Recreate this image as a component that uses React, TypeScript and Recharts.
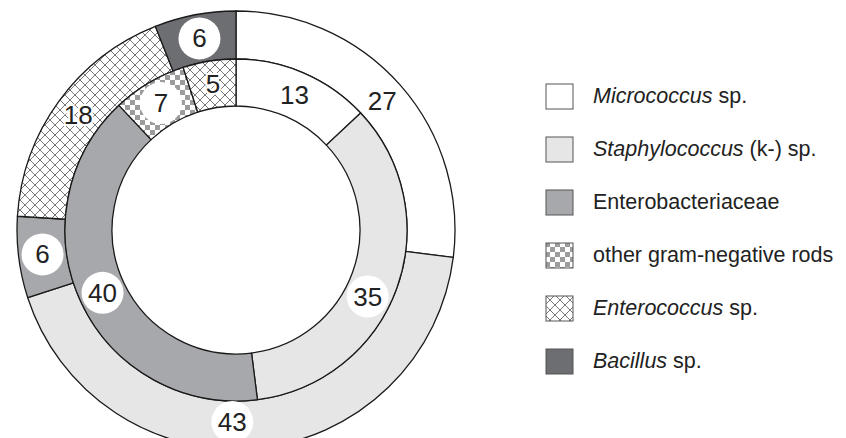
import { PieChart, Pie, Cell, Legend } from "recharts";

// categories shared by both rings
const categories = [
  "Micrococcus sp.",
  "Staphylococcus (k-) sp.",
  "Enterobacteriaceae",
  "other gram-negative rods",
  "Enterococcus sp.",
  "Bacillus sp.",
];
const italicParts = ["Micrococcus", "Staphylococcus", "", "", "Enterococcus", "Bacillus"];
const restParts = [" sp.", " (k-) sp.", "Enterobacteriaceae", "other gram-negative rods", " sp.", " sp."];

// outer ring
const outerCats = ["Micrococcus sp.", "Staphylococcus (k-) sp.", "Enterobacteriaceae", "Enterococcus sp.", "Bacillus sp."];
const outerValues = [27, 43, 6, 18, 6];
const outerLabelShift = [0, -6.5, 0, 0, 0]; // degrees, label nudges only
const outerLabelPull = [0, -3, 0, 0, 0]; // px toward centre

// inner ring
const innerCats = ["Micrococcus sp.", "Staphylococcus (k-) sp.", "Enterobacteriaceae", "other gram-negative rods", "Enterococcus sp."];
const innerValues = [13, 35, 40, 7, 5];
const innerLabelShift = [0, -7, 0, 0, 0];
const innerLabelPull = [0, 0, 0, 0, 0];

const fills: Record<string, string> = {
  "Micrococcus sp.": "#ffffff",
  "Staphylococcus (k-) sp.": "#e6e6e6",
  "Enterobacteriaceae": "#a7a8ab",
  "other gram-negative rods": "url(#checker)",
  "Enterococcus sp.": "url(#hatch)",
  "Bacillus sp.": "#6d6e71",
};
// which segments get a white disc behind the number
const bubble: Record<string, boolean> = {
  "Micrococcus sp.": false,
  "Staphylococcus (k-) sp.": true,
  "Enterobacteriaceae": true,
  "other gram-negative rods": true,
  "Enterococcus sp.": false,
  "Bacillus sp.": true,
};

const outerData = outerCats.map((name, i) => ({
  name,
  value: outerValues[i],
  shift: outerLabelShift[i],
  pull: outerLabelPull[i],
}));
const innerData = innerCats.map((name, i) => ({
  name,
  value: innerValues[i],
  shift: innerLabelShift[i],
  pull: innerLabelPull[i],
}));

const FONT = "'Liberation Sans', Arial, sans-serif";
const RADIAN = Math.PI / 180;

const renderLabel = (props: any) => {
  const { cx, cy, midAngle, innerRadius, outerRadius, value, name, payload } = props;
  const r = (innerRadius + outerRadius) / 2 + (payload?.pull ?? 0);
  const a = midAngle + (payload?.shift ?? 0);
  const x = cx + r * Math.cos(-a * RADIAN);
  const y = cy + r * Math.sin(-a * RADIAN);
  const hasBubble = bubble[name];
  const halo = name === "Enterococcus sp.";
  return (
    <g key={name + value}>
      {hasBubble && <circle cx={x} cy={y} r={21} fill="#fff" />}
      <text
        x={x}
        y={y}
        textAnchor="middle"
        dominantBaseline="central"
        fontFamily={FONT}
        fontSize={26}
        fill="#222"
        stroke={halo ? "#fff" : "none"}
        strokeWidth={halo ? 4 : 0}
        paintOrder="stroke"
      >
        {value}
      </text>
    </g>
  );
};

const LegendBox = () => (
  <div style={{ fontFamily: FONT, fontSize: 21.5, color: "#222" }}>
    {categories.map((c, i) => (
      <div key={c} style={{ display: "flex", alignItems: "center", height: 53 }}>
        <svg width={30} height={28} style={{ marginRight: 18 }}>
          <rect x={1} y={1} width={27} height={25} fill={fills[c]} stroke="#555" strokeWidth={1} />
        </svg>
        <span>
          {italicParts[i] && <i>{italicParts[i]}</i>}
          {restParts[i]}
        </span>
      </div>
    ))}
  </div>
);

export default function App() {
  return (
    <div style={{ position: "absolute", left: 0, top: 0, background: "#fff" }}>
      <PieChart width={846} height={438}>
        <defs>
          <pattern id="hatch" width={10} height={10} patternUnits="userSpaceOnUse">
            <rect width={10} height={10} fill="#fff" />
            <path d="M0,0 L10,10 M10,0 L0,10" stroke="#555" strokeWidth={0.8} />
          </pattern>
          <pattern id="checker" width={10} height={10} patternUnits="userSpaceOnUse">
            <rect width={10} height={10} fill="#fff" />
            <rect width={5} height={5} fill="#9c9c9c" />
            <rect x={5} y={5} width={5} height={5} fill="#9c9c9c" />
          </pattern>
        </defs>
        <Pie
          data={outerData}
          dataKey="value"
          cx={231}
          cy={225}
          innerRadius={171}
          outerRadius={219}
          startAngle={90}
          endAngle={-270}
          stroke="#1a1a1a"
          strokeWidth={1.3}
          label={renderLabel}
          labelLine={false}
          isAnimationActive={false}
        >
          {outerData.map((d) => (
            <Cell key={d.name} fill={fills[d.name]} />
          ))}
        </Pie>
        <Pie
          data={innerData}
          dataKey="value"
          cx={231}
          cy={225}
          innerRadius={124}
          outerRadius={171}
          startAngle={90}
          endAngle={-270}
          stroke="#1a1a1a"
          strokeWidth={1.3}
          label={renderLabel}
          labelLine={false}
          isAnimationActive={false}
        >
          {innerData.map((d) => (
            <Cell key={d.name} fill={fills[d.name]} />
          ))}
        </Pie>
        <Legend content={LegendBox} wrapperStyle={{ left: 545, top: 70, width: 300 }} />
      </PieChart>
    </div>
  );
}
